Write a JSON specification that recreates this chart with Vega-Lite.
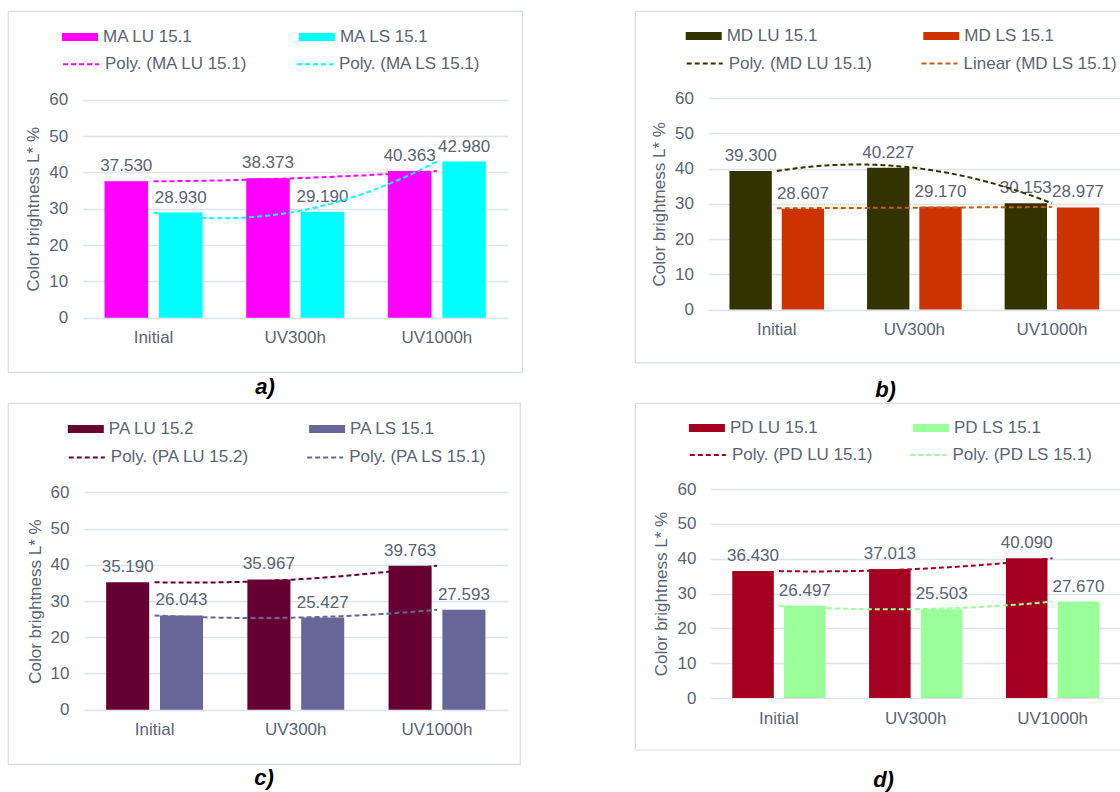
{
  "$schema": "https://vega.github.io/schema/vega-lite/v6.json",
  "padding": {"left": 7, "top": 10, "right": 0, "bottom": 0},
  "background": "white",
  "bounds": "flush",
  "columns": 2,
  "spacing": {"row": 31, "column": 113},
  "datasets": {
    "ma": [
      {"cat": "Initial", "t": 1, "series": "MA LU 15.1", "trend": "Poly. (MA LU 15.1)", "value": 37.530},
      {"cat": "UV300h", "t": 2, "series": "MA LU 15.1", "trend": "Poly. (MA LU 15.1)", "value": 38.373},
      {"cat": "UV1000h", "t": 3, "series": "MA LU 15.1", "trend": "Poly. (MA LU 15.1)", "value": 40.363},
      {"cat": "Initial", "t": 1, "series": "MA LS 15.1", "trend": "Poly. (MA LS 15.1)", "value": 28.930},
      {"cat": "UV300h", "t": 2, "series": "MA LS 15.1", "trend": "Poly. (MA LS 15.1)", "value": 29.190},
      {"cat": "UV1000h", "t": 3, "series": "MA LS 15.1", "trend": "Poly. (MA LS 15.1)", "value": 42.980}
    ],
    "md": [
      {"cat": "Initial", "t": 1, "series": "MD LU 15.1", "trend": "Poly. (MD LU 15.1)", "value": 39.300},
      {"cat": "UV300h", "t": 2, "series": "MD LU 15.1", "trend": "Poly. (MD LU 15.1)", "value": 40.227},
      {"cat": "UV1000h", "t": 3, "series": "MD LU 15.1", "trend": "Poly. (MD LU 15.1)", "value": 30.153},
      {"cat": "Initial", "t": 1, "series": "MD LS 15.1", "trend": "Linear (MD LS 15.1)", "value": 28.607},
      {"cat": "UV300h", "t": 2, "series": "MD LS 15.1", "trend": "Linear (MD LS 15.1)", "value": 29.170},
      {"cat": "UV1000h", "t": 3, "series": "MD LS 15.1", "trend": "Linear (MD LS 15.1)", "value": 28.977}
    ],
    "pa": [
      {"cat": "Initial", "t": 1, "series": "PA LU 15.2", "trend": "Poly. (PA LU 15.2)", "value": 35.190},
      {"cat": "UV300h", "t": 2, "series": "PA LU 15.2", "trend": "Poly. (PA LU 15.2)", "value": 35.967},
      {"cat": "UV1000h", "t": 3, "series": "PA LU 15.2", "trend": "Poly. (PA LU 15.2)", "value": 39.763},
      {"cat": "Initial", "t": 1, "series": "PA LS 15.1", "trend": "Poly. (PA LS 15.1)", "value": 26.043},
      {"cat": "UV300h", "t": 2, "series": "PA LS 15.1", "trend": "Poly. (PA LS 15.1)", "value": 25.427},
      {"cat": "UV1000h", "t": 3, "series": "PA LS 15.1", "trend": "Poly. (PA LS 15.1)", "value": 27.593}
    ],
    "pd": [
      {"cat": "Initial", "t": 1, "series": "PD LU 15.1", "trend": "Poly. (PD LU 15.1)", "value": 36.430},
      {"cat": "UV300h", "t": 2, "series": "PD LU 15.1", "trend": "Poly. (PD LU 15.1)", "value": 37.013},
      {"cat": "UV1000h", "t": 3, "series": "PD LU 15.1", "trend": "Poly. (PD LU 15.1)", "value": 40.090},
      {"cat": "Initial", "t": 1, "series": "PD LS 15.1", "trend": "Poly. (PD LS 15.1)", "value": 26.497},
      {"cat": "UV300h", "t": 2, "series": "PD LS 15.1", "trend": "Poly. (PD LS 15.1)", "value": 25.503},
      {"cat": "UV1000h", "t": 3, "series": "PD LS 15.1", "trend": "Poly. (PD LS 15.1)", "value": 27.670}
    ]
  },
  "config": {
    "font": "Liberation Sans",
    "view": {"stroke": "#d9dde4", "strokeWidth": 1.2},
    "axis": {
      "labelFont": "Liberation Sans", "labelFontSize": 17, "labelColor": "#5a6473",
      "titleFont": "Liberation Sans", "titleFontSize": 17, "titleFontWeight": "normal", "titleColor": "#5a6473",
      "gridColor": "#dfe3ea", "gridWidth": 1.3, "domain": false, "ticks": false
    },
    "legend": {
      "labelFont": "Liberation Sans", "labelFontSize": 17, "labelColor": "#5a6473",
      "padding": 0, "labelOffset": 5, "labelLimit": 400
    },
    "text": {"font": "Liberation Sans", "fontSize": 17, "fill": "#5a6473"},
    "title": {"font": "Liberation Sans", "fontSize": 22, "fontStyle": "italic", "fontWeight": "bold", "color": "#000000", "orient": "bottom", "anchor": "middle", "frame": "group"}
  },
  "resolve": {
    "scale": {"fill": "independent", "stroke": "independent", "xOffset": "independent", "x": "independent", "y": "independent"},
    "legend": {"fill": "independent", "stroke": "independent"}
  },
  "concat": [
    {
      "width": 514, "height": 361,
      "data": {"name": "ma"},
      "title": {"text": "a)", "offset": 5},
      "resolve": {"scale": {"x": "independent"}, "axis": {"y": "independent"}},
      "layer": [
        {
          "layer": [
            {
              "mark": {"type": "bar"},
              "encoding": {
                "x": {"field": "cat", "type": "nominal", "sort": ["Initial", "UV300h", "UV1000h"],
                  "scale": {"range": [74.7, 499.7], "paddingInner": 0.308, "paddingOuter": 0.154},
                  "axis": {"title": null, "offset": -54.3, "labelAngle": 0, "labelPadding": 12, "grid": false}},
                "xOffset": {"field": "series", "type": "nominal", "sort": ["MA LU 15.1", "MA LS 15.1"],
                  "scale": {"paddingInner": 0.2, "paddingOuter": 0}},
                "y": {"field": "value", "type": "quantitative",
                  "scale": {"domain": [0, 60], "range": [306.7, 88.7], "nice": false},
                  "axis": {"title": "Color brightness L* %", "offset": -74.7, "values": [0, 10, 20, 30, 40, 50, 60], "labelPadding": 15, "titlePadding": 6, "grid": true}},
                "fill": {"field": "series", "type": "nominal",
                  "scale": {"domain": ["MA LU 15.1", "MA LS 15.1"], "range": ["#ff00ff", "#00ffff"]},
                  "legend": {"title": null, "orient": "none", "legendX": 54, "legendY": 8, "direction": "horizontal", "columns": 2, "columnPadding": 105.9,
                    "symbolType": "M-1,-0.22H1V0.22H-1Z", "symbolSize": 1296, "symbolStrokeWidth": 0}}
              }
            },
            {
              "mark": {"type": "text", "baseline": "alphabetic", "dy": -10},
              "encoding": {
                "x": {"field": "cat", "type": "nominal", "sort": ["Initial", "UV300h", "UV1000h"]},
                "xOffset": {"field": "series", "type": "nominal", "sort": ["MA LU 15.1", "MA LS 15.1"]},
                "y": {"field": "value", "type": "quantitative"},
                "text": {"field": "value", "type": "quantitative", "format": ".3f"}
              }
            }
          ]
        },
        {
          "transform": [{"regression": "value", "on": "t", "groupby": ["trend"], "method": "poly", "order": 2, "extent": [1, 3]}],
          "mark": {"type": "line", "strokeDash": [5, 3], "strokeWidth": 2},
          "encoding": {
            "x": {"field": "t", "type": "quantitative", "scale": {"domain": [0.5, 3.5], "range": [74.7, 499.7], "nice": false, "zero": false}, "axis": null},
            "y": {"field": "value", "type": "quantitative", "axis": null},
            "stroke": {"field": "trend", "type": "nominal",
              "scale": {"domain": ["Poly. (MA LU 15.1)", "Poly. (MA LS 15.1)"], "range": ["#ff00ff", "#00ffff"]},
              "legend": {"title": null, "orient": "none", "legendX": 54, "legendY": 34.3, "direction": "horizontal", "columns": 2, "columnPadding": 45,
                "symbolType": "stroke", "symbolSize": 1296, "symbolStrokeWidth": 2, "symbolDash": [5, 3]}}
          }
        }
      ]
    },
    {
      "width": 501, "height": 351.5,
      "data": {"name": "md"},
      "title": {"text": "b)", "offset": 17},
      "resolve": {"scale": {"x": "independent"}, "axis": {"y": "independent"}},
      "layer": [
        {
          "layer": [
            {
              "mark": {"type": "bar"},
              "encoding": {
                "x": {"field": "cat", "type": "nominal", "sort": ["Initial", "UV300h", "UV1000h"],
                  "scale": {"range": [73, 485.7], "paddingInner": 0.3125, "paddingOuter": 0.156},
                  "axis": {"title": null, "offset": -53, "labelAngle": 0, "labelPadding": 12, "grid": false}},
                "xOffset": {"field": "series", "type": "nominal", "sort": ["MD LU 15.1", "MD LS 15.1"],
                  "scale": {"paddingInner": 0.19, "paddingOuter": 0}},
                "y": {"field": "value", "type": "quantitative",
                  "scale": {"domain": [0, 60], "range": [298.5, 87.2], "nice": false},
                  "axis": {"title": "Color brightness L* %", "offset": -73, "values": [0, 10, 20, 30, 40, 50, 60], "labelPadding": 14.6, "titlePadding": 6, "grid": true}},
                "fill": {"field": "series", "type": "nominal",
                  "scale": {"domain": ["MD LU 15.1", "MD LS 15.1"], "range": ["#333300", "#cc3300"]},
                  "legend": {"title": null, "orient": "none", "legendX": 50.7, "legendY": 7, "direction": "horizontal", "columns": 2, "columnPadding": 105.6,
                    "symbolType": "M-1,-0.22H1V0.22H-1Z", "symbolSize": 1296, "symbolStrokeWidth": 0}}
              }
            },
            {
              "mark": {"type": "text", "baseline": "alphabetic", "dy": -10},
              "encoding": {
                "x": {"field": "cat", "type": "nominal", "sort": ["Initial", "UV300h", "UV1000h"]},
                "xOffset": {"field": "series", "type": "nominal", "sort": ["MD LU 15.1", "MD LS 15.1"]},
                "y": {"field": "value", "type": "quantitative"},
                "text": {"field": "value", "type": "quantitative", "format": ".3f"}
              }
            }
          ]
        },
        {
          "transform": [
            {"filter": "datum.series === 'MD LU 15.1'"},
            {"regression": "value", "on": "t", "groupby": ["trend"], "method": "poly", "order": 2, "extent": [1, 3]}
          ],
          "mark": {"type": "line", "strokeDash": [5, 3], "strokeWidth": 2},
          "encoding": {
            "x": {"field": "t", "type": "quantitative", "scale": {"domain": [0.5, 3.5], "range": [73, 485.7], "nice": false, "zero": false}, "axis": null},
            "y": {"field": "value", "type": "quantitative", "axis": null},
            "stroke": {"field": "trend", "type": "nominal",
              "scale": {"domain": ["Poly. (MD LU 15.1)", "Linear (MD LS 15.1)"], "range": ["#333300", "#c55a11"]},
              "legend": {"title": null, "orient": "none", "legendX": 50.7, "legendY": 33.5, "direction": "horizontal", "columns": 2, "columnPadding": 44.8,
                "symbolType": "stroke", "symbolSize": 1296, "symbolStrokeWidth": 2, "symbolDash": [5, 3]}}
          }
        },
        {
          "transform": [
            {"filter": "datum.series === 'MD LS 15.1'"},
            {"regression": "value", "on": "t", "groupby": ["trend"], "method": "linear", "extent": [1, 3]}
          ],
          "mark": {"type": "line", "strokeDash": [5, 3], "strokeWidth": 2},
          "encoding": {
            "x": {"field": "t", "type": "quantitative", "scale": {"domain": [0.5, 3.5], "range": [73, 485.7], "nice": false, "zero": false}, "axis": null},
            "y": {"field": "value", "type": "quantitative", "axis": null},
            "stroke": {"field": "trend", "type": "nominal"}
          }
        }
      ]
    },
    {
      "width": 512, "height": 361,
      "data": {"name": "pa"},
      "title": {"text": "c)", "offset": 4},
      "resolve": {"scale": {"x": "independent"}, "axis": {"y": "independent"}},
      "layer": [
        {
          "layer": [
            {
              "mark": {"type": "bar"},
              "encoding": {
                "x": {"field": "cat", "type": "nominal", "sort": ["Initial", "UV300h", "UV1000h"],
                  "scale": {"range": [76, 499.6], "paddingInner": 0.314, "paddingOuter": 0.157},
                  "axis": {"title": null, "offset": -54.3, "labelAngle": 0, "labelPadding": 12, "grid": false}},
                "xOffset": {"field": "series", "type": "nominal", "sort": ["PA LU 15.2", "PA LS 15.1"],
                  "scale": {"paddingInner": 0.2, "paddingOuter": 0}},
                "y": {"field": "value", "type": "quantitative",
                  "scale": {"domain": [0, 60], "range": [306.7, 89.4], "nice": false},
                  "axis": {"title": "Color brightness L* %", "offset": -76, "values": [0, 10, 20, 30, 40, 50, 60], "labelPadding": 15, "titlePadding": 6, "grid": true}},
                "fill": {"field": "series", "type": "nominal",
                  "scale": {"domain": ["PA LU 15.2", "PA LS 15.1"], "range": ["#660033", "#666699"]},
                  "legend": {"title": null, "orient": "none", "legendX": 59.8, "legendY": 8, "direction": "horizontal", "columns": 2, "columnPadding": 114.3,
                    "symbolType": "M-1,-0.22H1V0.22H-1Z", "symbolSize": 1296, "symbolStrokeWidth": 0}}
              }
            },
            {
              "mark": {"type": "text", "baseline": "alphabetic", "dy": -10},
              "encoding": {
                "x": {"field": "cat", "type": "nominal", "sort": ["Initial", "UV300h", "UV1000h"]},
                "xOffset": {"field": "series", "type": "nominal", "sort": ["PA LU 15.2", "PA LS 15.1"]},
                "y": {"field": "value", "type": "quantitative"},
                "text": {"field": "value", "type": "quantitative", "format": ".3f"}
              }
            }
          ]
        },
        {
          "transform": [{"regression": "value", "on": "t", "groupby": ["trend"], "method": "poly", "order": 2, "extent": [1, 3]}],
          "mark": {"type": "line", "strokeDash": [5, 3], "strokeWidth": 2},
          "encoding": {
            "x": {"field": "t", "type": "quantitative", "scale": {"domain": [0.5, 3.5], "range": [76, 499.6], "nice": false, "zero": false}, "axis": null},
            "y": {"field": "value", "type": "quantitative", "axis": null},
            "stroke": {"field": "trend", "type": "nominal",
              "scale": {"domain": ["Poly. (PA LU 15.2)", "Poly. (PA LS 15.1)"], "range": ["#660033", "#666699"]},
              "legend": {"title": null, "orient": "none", "legendX": 59.8, "legendY": 35.4, "direction": "horizontal", "columns": 2, "columnPadding": 53.4,
                "symbolType": "stroke", "symbolSize": 1296, "symbolStrokeWidth": 2, "symbolDash": [5, 3]}}
          }
        }
      ]
    },
    {
      "width": 497, "height": 346.7,
      "data": {"name": "pd"},
      "title": {"text": "d)", "offset": 20},
      "resolve": {"scale": {"x": "independent"}, "axis": {"y": "independent"}},
      "layer": [
        {
          "layer": [
            {
              "mark": {"type": "bar"},
              "encoding": {
                "x": {"field": "cat", "type": "nominal", "sort": ["Initial", "UV300h", "UV1000h"],
                  "scale": {"range": [75.5, 486], "paddingInner": 0.318, "paddingOuter": 0.159},
                  "axis": {"title": null, "offset": -51.7, "labelAngle": 0, "labelPadding": 12, "grid": false}},
                "xOffset": {"field": "series", "type": "nominal", "sort": ["PD LU 15.1", "PD LS 15.1"],
                  "scale": {"paddingInner": 0.197, "paddingOuter": 0}},
                "y": {"field": "value", "type": "quantitative",
                  "scale": {"domain": [0, 60], "range": [295, 86], "nice": false},
                  "axis": {"title": "Color brightness L* %", "offset": -75.5, "values": [0, 10, 20, 30, 40, 50, 60], "labelPadding": 14.6, "titlePadding": 6, "grid": true}},
                "fill": {"field": "series", "type": "nominal",
                  "scale": {"domain": ["PD LU 15.1", "PD LS 15.1"], "range": ["#a50021", "#99ff99"]},
                  "legend": {"title": null, "orient": "none", "legendX": 53.9, "legendY": 7, "direction": "horizontal", "columns": 2, "columnPadding": 95,
                    "symbolType": "M-1,-0.22H1V0.22H-1Z", "symbolSize": 1296, "symbolStrokeWidth": 0}}
              }
            },
            {
              "mark": {"type": "text", "baseline": "alphabetic", "dy": -10},
              "encoding": {
                "x": {"field": "cat", "type": "nominal", "sort": ["Initial", "UV300h", "UV1000h"]},
                "xOffset": {"field": "series", "type": "nominal", "sort": ["PD LU 15.1", "PD LS 15.1"]},
                "y": {"field": "value", "type": "quantitative"},
                "text": {"field": "value", "type": "quantitative", "format": ".3f"}
              }
            }
          ]
        },
        {
          "transform": [{"regression": "value", "on": "t", "groupby": ["trend"], "method": "poly", "order": 2, "extent": [1, 3]}],
          "mark": {"type": "line", "strokeDash": [5, 3], "strokeWidth": 2},
          "encoding": {
            "x": {"field": "t", "type": "quantitative", "scale": {"domain": [0.5, 3.5], "range": [75.5, 486], "nice": false, "zero": false}, "axis": null},
            "y": {"field": "value", "type": "quantitative", "axis": null},
            "stroke": {"field": "trend", "type": "nominal",
              "scale": {"domain": ["Poly. (PD LU 15.1)", "Poly. (PD LS 15.1)"], "range": ["#a50021", "#99ff99"]},
              "legend": {"title": null, "orient": "none", "legendX": 53.9, "legendY": 33, "direction": "horizontal", "columns": 2, "columnPadding": 33.5,
                "symbolType": "stroke", "symbolSize": 1296, "symbolStrokeWidth": 2, "symbolDash": [5, 3]}}
          }
        }
      ]
    }
  ]
}
